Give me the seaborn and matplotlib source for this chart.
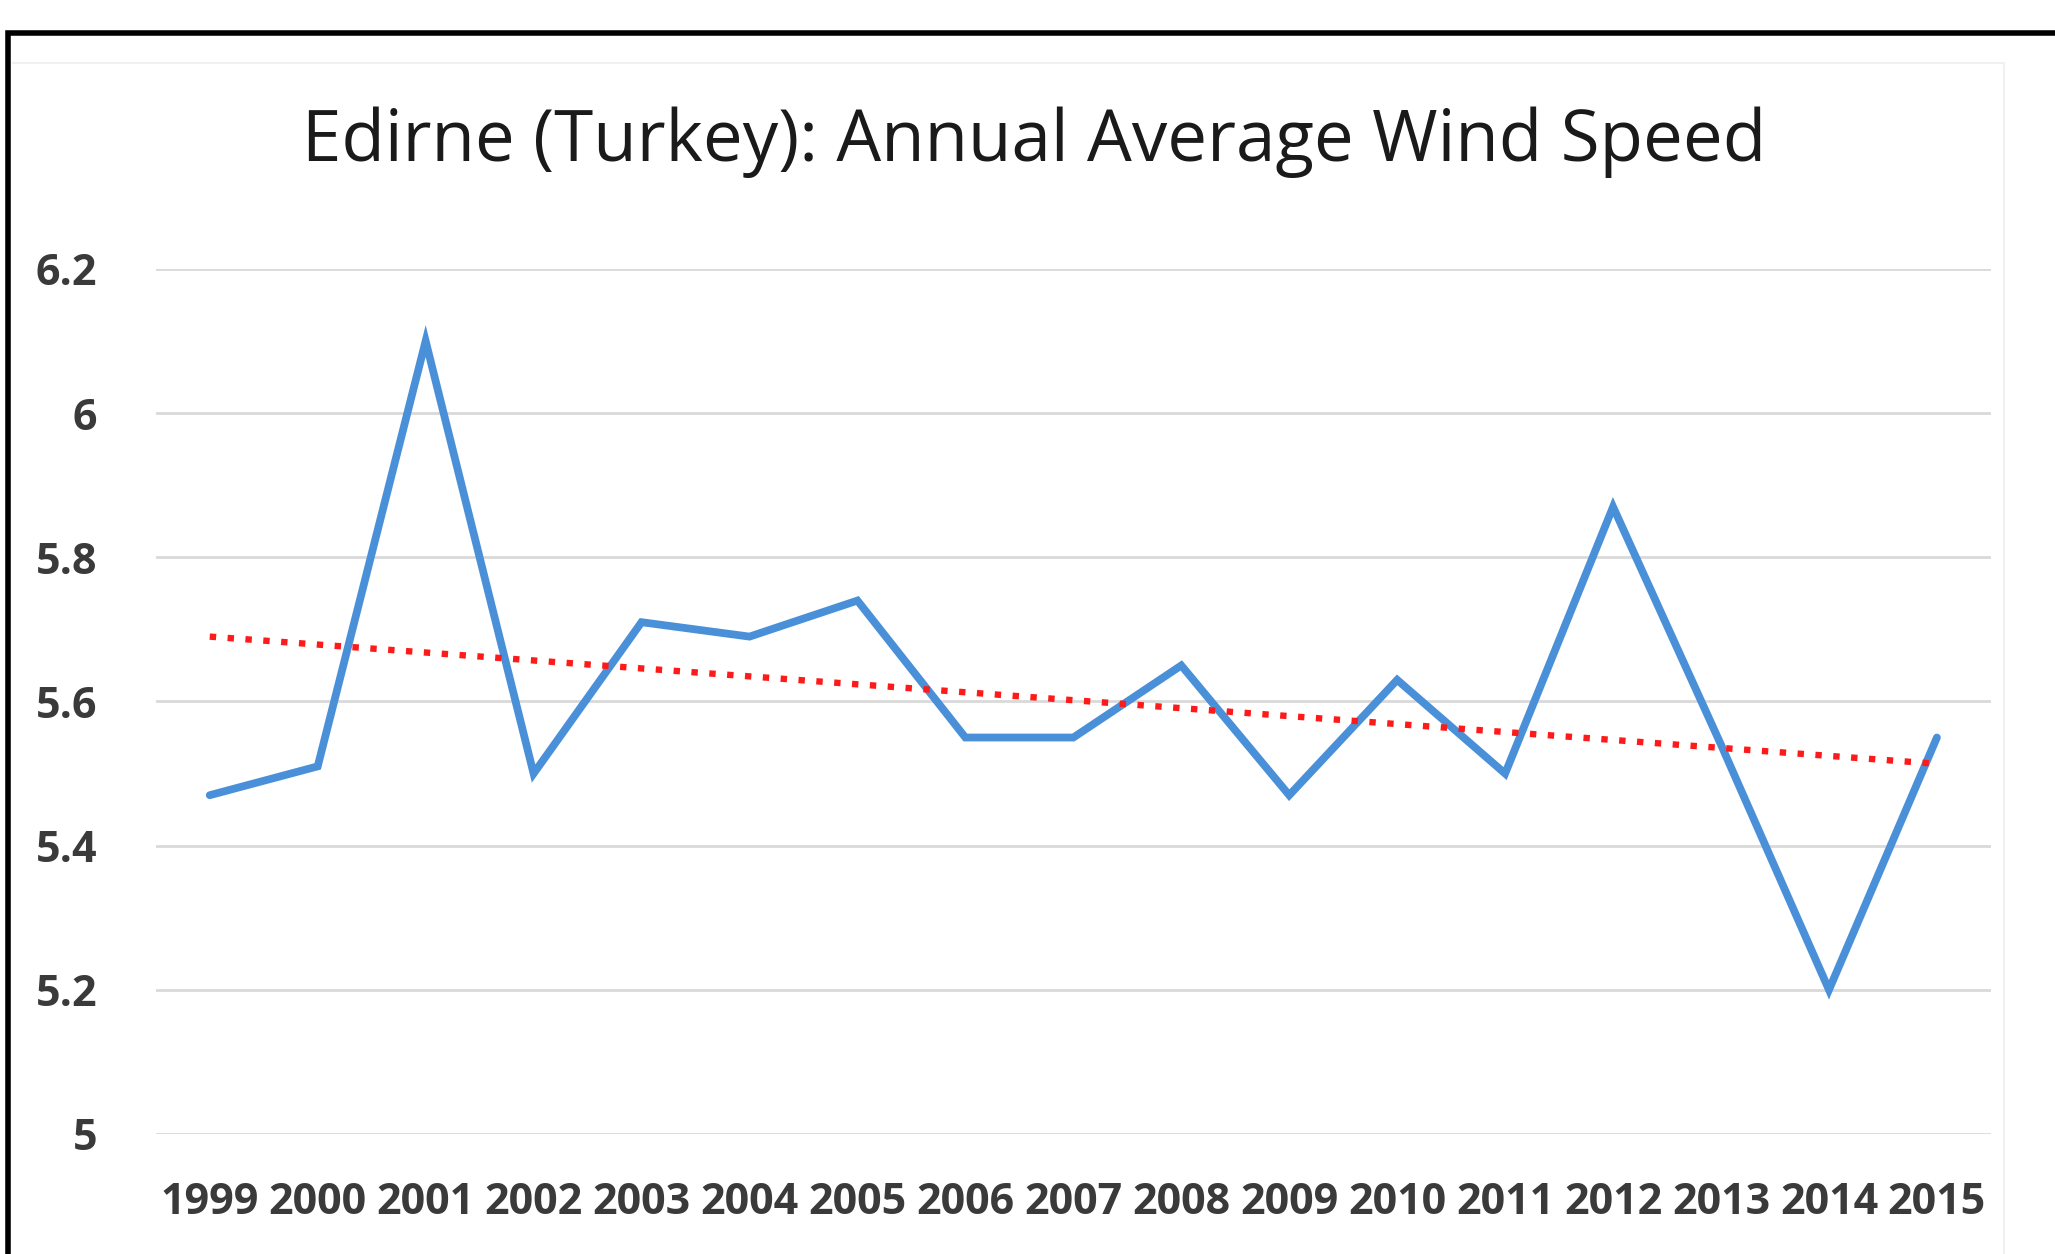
import numpy as np
import pandas as pd
import matplotlib
matplotlib.use("Agg")
import matplotlib.pyplot as plt
from matplotlib.lines import Line2D
import seaborn as sns

# Annual average wind speed at Edirne
years = [1999, 2000, 2001, 2002, 2003, 2004, 2005, 2006, 2007,
         2008, 2009, 2010, 2011, 2012, 2013, 2014, 2015]
wind_speed = [5.47, 5.51, 6.10, 5.50, 5.71, 5.69, 5.74, 5.55, 5.55,
              5.65, 5.47, 5.63, 5.50, 5.87, 5.54, 5.20, 5.55]
y_ticks = [5.0, 5.2, 5.4, 5.6, 5.8, 6.0, 6.2]
y_tick_labels = ["5", "5.2", "5.4", "5.6", "5.8", "6", "6.2"]
title = "Edirne (Turkey): Annual Average Wind Speed"

sns.set_theme(style="white")
plt.rcParams["font.family"] = ["Open Sans", "DejaVu Sans"]

df = pd.DataFrame({"pos": np.arange(len(years)), "speed": wind_speed})

fig = plt.figure(figsize=(20.55, 12.54), dpi=100)
ax = fig.add_axes([0.0758, 0.0957, 0.893, 0.6898])

for v in y_ticks:
    ax.axhline(v, color="#d9d9d9", lw=2.0, zorder=0)

sns.lineplot(data=df, x="pos", y="speed", ax=ax, color="#4a90d9",
             lw=5.6, zorder=3, solid_joinstyle="miter")
sns.regplot(data=df, x="pos", y="speed", ax=ax, scatter=False, ci=None,
            truncate=True,
            line_kws=dict(color="#ff1a1a", lw=4.6, linestyle=(0, (1.0, 1.8)),
                          zorder=4))

ax.set_xlim(-0.5, len(years) - 0.5)
ax.set_ylim(5.0, 6.2)
ax.set_xticks(range(len(years)))
ax.set_xticklabels([str(y) for y in years])
ax.set_yticks(y_ticks)
ax.set_yticklabels(y_tick_labels)
ax.tick_params(axis="both", length=0, labelsize=31, colors="#3a3a3a")
ax.tick_params(axis="x", pad=34)
ax.tick_params(axis="y", pad=42)
for lab in ax.get_xticklabels() + ax.get_yticklabels():
    lab.set_fontweight("bold")
ax.set_xlabel("")
ax.set_ylabel("")
for s in ax.spines.values():
    s.set_visible(False)

fig.text(0.503, 0.872, title, ha="center", va="baseline",
         fontsize=51, color="#1a1a1a")

# frame around the chart (top and left edges)
fig.add_artist(Line2D([0.0037, 0.0037, 1.0], [0.0, 0.974, 0.974],
                      transform=fig.transFigure, color="black", lw=4.0,
                      solid_joinstyle="miter"))
fig.add_artist(Line2D([0.0065, 0.975, 0.975], [0.95, 0.95, 0.0],
                      transform=fig.transFigure, color="#f0f0f0", lw=1.5))

fig.savefig("out.png", dpi=100, facecolor="white")
